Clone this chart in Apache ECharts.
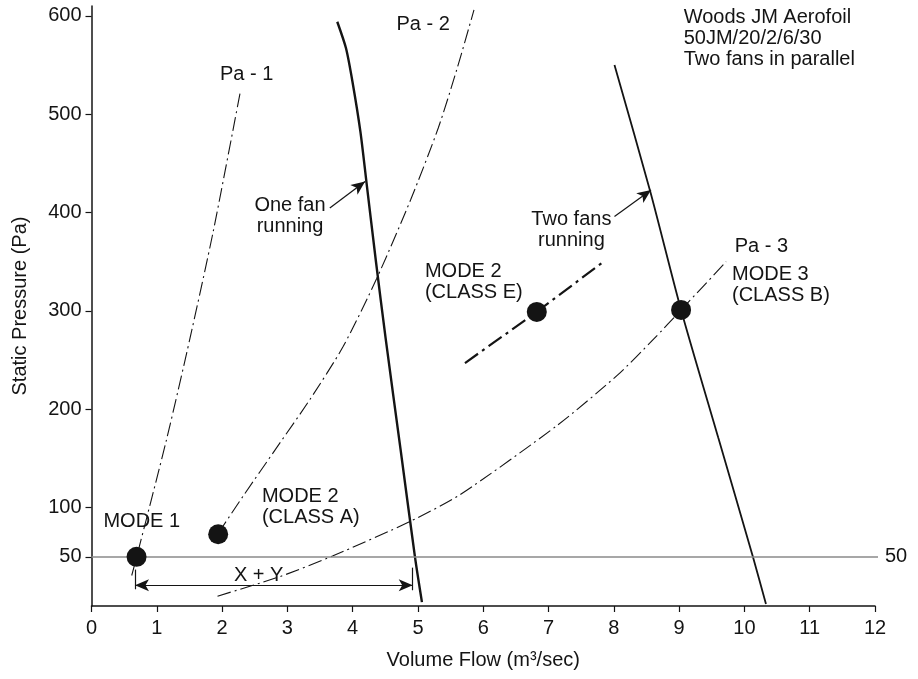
<!DOCTYPE html>
<html><head><meta charset="utf-8">
<script src="https://cdn.jsdelivr.net/npm/echarts@6/dist/echarts.min.js"></script>
<style>html,body{margin:0;padding:0;background:#fff}#c{width:918px;height:679px}</style>
</head><body><div id="c"></div>
<script>
// ---- data ----
const yTickValues = [50, 100, 200, 300, 400, 500, 600];
const oneFan = [[3.764,594],[3.898,567],[3.997,533],[4.119,482],[4.211,431],[4.357,350],[4.505,272],[4.732,160],[4.954,50],[5.061,4]];
const twoFans = [[8.01,550],[8.56,421],[9.03,301],[9.6,171],[10.13,50],[10.33,2]];
const pa1 = [[0.616,31],[0.692,50],[1.152,170],[1.508,272],[1.865,381],[2.274,521]];
const pa2 = [[1.942,74],[2.325,112],[2.836,161],[3.346,210],[3.856,264],[4.368,333],[4.888,413],[5.311,486],[5.593,545],[5.858,606]];
const pa3 = [[1.93,10],[2.89,30],[3.70,51],[4.88,86],[5.64,113],[7.14,184],[8.06,235],[8.62,272],[9.03,301],[9.72,350]];
const mode2E = [[5.72,247],[6.82,299],[7.84,350]];
const operatingPoints = [[0.69,50],[1.94,73],[6.82,299],[9.03,301]];
const referencePressure = 50;
const oneFanArrow = [[3.65,404.6],[4.19,431.6]];
const twoFansArrow = [[8.01,395.9],[8.57,423.0]];
const xyArrow = [[0.666,21],[4.92,21]];
const xyLeftStop = [[0.666,37],[0.666,17]];
const xyRightStop = [[4.92,39],[4.92,16]];
const labelTexts = ['Pa - 1','Pa - 2','Pa - 3','MODE 1','MODE 2\n(CLASS A)','MODE 2\n(CLASS E)','MODE 3\n(CLASS B)','One fan\nrunning','Two fans\nrunning','X + Y','Woods JM Aerofoil\n50JM/20/2/6/30\nTwo fans in parallel'];
const labelAnchors = [[2.377,540],[5.08,590.8],[10.26,365.4],[0.77,85.7],[2.61,100.7],[5.107,329],[9.81,326.8],[3.04,396.4],[7.35,382.3],[2.56,31.3],[9.07,577.3]];
const labelAligns = ['center','center','center','center','left','left','left','center','center','center','left'];

// ---- chart ----
const FONT = '"Liberation Sans", Arial, sans-serif';
const ink = '#141414';
const dashDot = [14,4,2,4];
const chart = echarts.init(document.getElementById('c'), null, {renderer:'canvas'});

const lineSeries = (data, width, type) => ({
  type:'line', data, symbol:'none', smooth:0.25, silent:true, animation:false,
  lineStyle:{color:ink, width, type}
});
const seg = (pair, s0, s1) => [{coord:pair[0], symbol:s0}, {coord:pair[1], symbol:s1}];

chart.setOption({
  backgroundColor:'#fff',
  animation:false,
  textStyle:{fontFamily:FONT},
  grid:{left:91.5, right:43, top:6, bottom:73},
  xAxis:{
    type:'value', min:0, max:12, interval:1,
    axisLine:{lineStyle:{color:ink, width:1.5}},
    axisTick:{show:true, length:6, lineStyle:{color:ink, width:1.2}},
    axisLabel:{fontSize:20, color:ink, margin:12, fontFamily:FONT},
    splitLine:{show:false},
    name:'Volume Flow (m³/sec)', nameLocation:'middle', nameGap:44,
    nameTextStyle:{fontSize:20, color:ink, fontFamily:FONT}
  },
  yAxis:{
    type:'value', min:0, max:610,
    axisLine:{show:true, lineStyle:{color:ink, width:1.5}},
    axisTick:{show:true, length:6, customValues:yTickValues, lineStyle:{color:ink, width:1.2}},
    axisLabel:{fontSize:20, color:ink, margin:10, customValues:yTickValues, fontFamily:FONT},
    splitLine:{show:false},
    name:'Static Pressure (Pa)', nameLocation:'middle', nameGap:61,
    nameTextStyle:{fontSize:20, color:ink, fontFamily:FONT}
  },
  series:[
    lineSeries(oneFan, 2.4, 'solid'),
    lineSeries(twoFans, 1.8, 'solid'),
    lineSeries(pa1, 1.1, dashDot),
    lineSeries(pa2, 1.1, dashDot),
    lineSeries(pa3, 1.1, dashDot),
    Object.assign(lineSeries(mode2E, 2.2, [16,5,3,5]), {smooth:false}),
    {
      type:'scatter', data:operatingPoints, symbol:'circle', symbolSize:20, silent:true,
      itemStyle:{color:ink, opacity:1}, z:5
    },
    {
      type:'scatter', symbolSize:0, silent:true, z:6,
      itemStyle:{opacity:1},
      data: labelTexts.map((t,i)=>({value:labelAnchors[i], label:{formatter:t, align:labelAligns[i]}})),
      label:{show:true, position:'inside', verticalAlign:'middle', fontSize:20, lineHeight:21,
             color:ink, opacity:1, fontFamily:FONT},
      markLine:{
        silent:true, animation:false, symbolSize:[9,14],
        label:{show:false}, emphasis:{disabled:true},
        lineStyle:{color:ink, width:1.2, type:'solid', opacity:1},
        data:[
          seg(oneFanArrow,'none','arrow'),
          seg(twoFansArrow,'none','arrow'),
          seg(xyArrow,'arrow','arrow'),
          seg(xyLeftStop,'none','none'),
          seg(xyRightStop,'none','none'),
          [{yAxis:referencePressure, x:91.5, symbol:'none', lineStyle:{color:'#8a8a8a', width:1.6},
            label:{show:true, position:'end', formatter:String(referencePressure), fontSize:20, color:ink, distance:7, fontFamily:FONT}},
           {yAxis:referencePressure, x:878, symbol:'none'}]
        ]
      }
    }
  ]
});
</script></body></html>
